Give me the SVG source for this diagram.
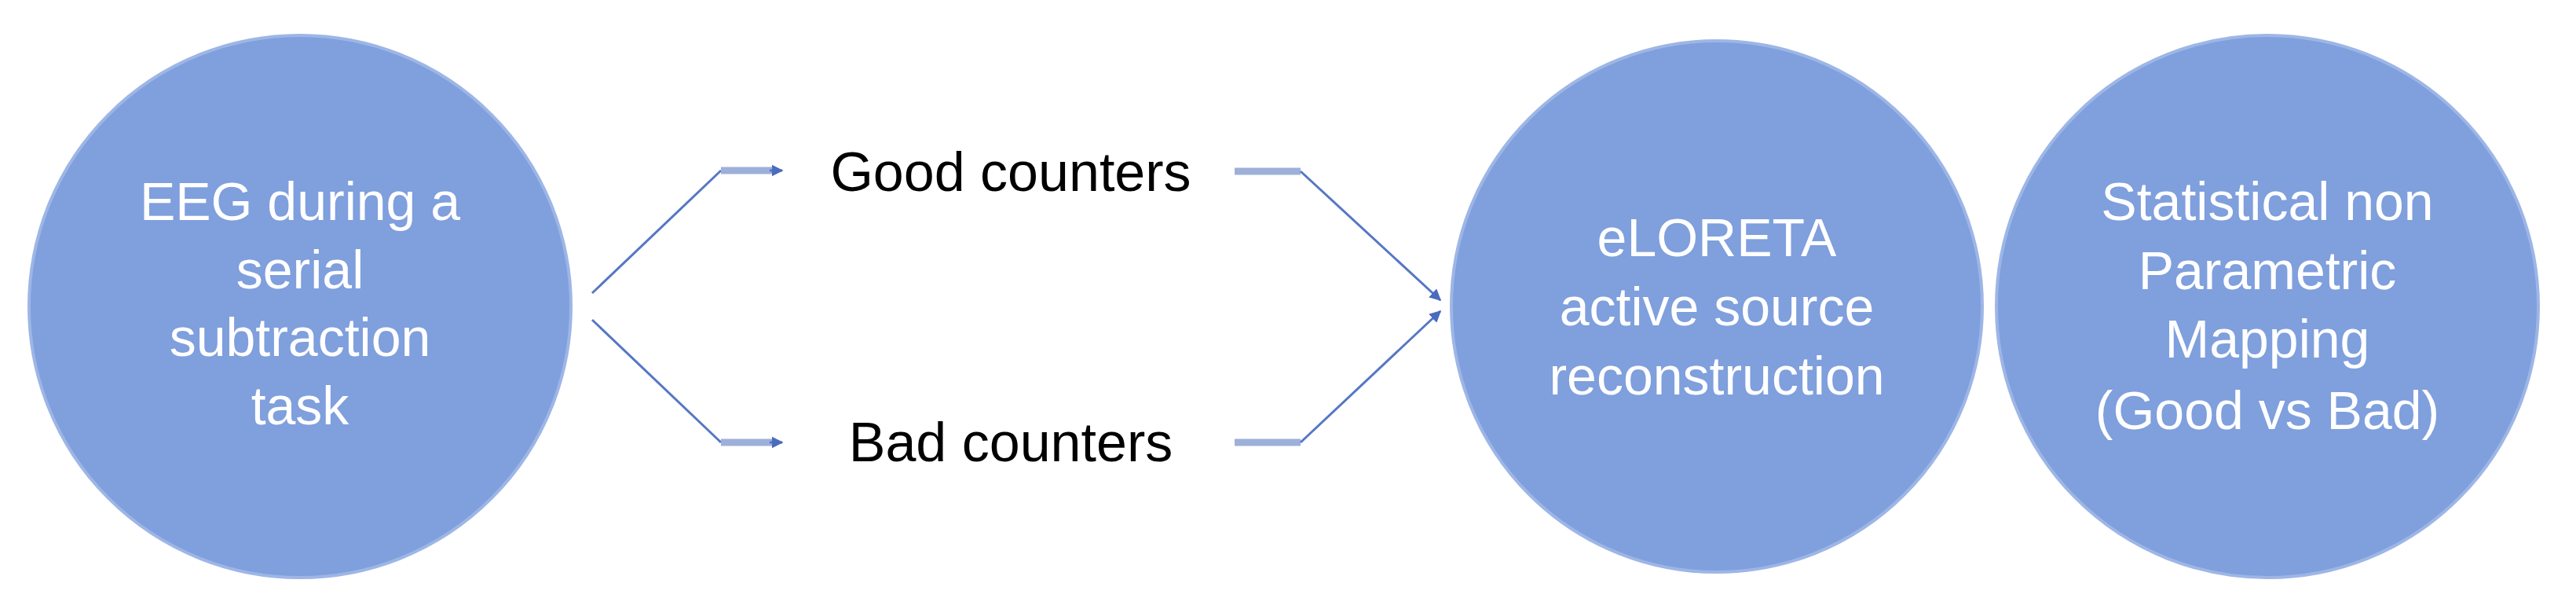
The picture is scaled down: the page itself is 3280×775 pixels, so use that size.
<svg xmlns="http://www.w3.org/2000/svg" width="3280" height="775" viewBox="0 0 3280 775">
<defs>
<style>
.n{fill:#7F9FDD;stroke:#9DB6E6;stroke-width:4}
.t{font-family:"Liberation Sans",Arial,sans-serif;font-size:68px;fill:#fff;text-anchor:middle}
.l{font-family:"Liberation Sans",Arial,sans-serif;font-size:70px;fill:#000;text-anchor:middle}
.c{fill:none;stroke:#5677C4;stroke-width:3}
.h{fill:none;stroke:#9DB0DA;stroke-width:9}
</style>
<marker id="a" viewBox="0 0 10 10" refX="9" refY="5" markerWidth="4" markerHeight="4" orient="auto" markerUnits="strokeWidth"><path d="M0,0L10,5L0,10z" fill="#4A6BBE"/></marker>
<marker id="b" viewBox="0 0 10 10" refX="9" refY="5" markerWidth="5" markerHeight="5" orient="auto"><path d="M0,0L10,5L0,10z" fill="#4A6BBE"/></marker>
</defs>
<g id="eeg"><circle class="n" cx="382" cy="390" r="345"/>
<text class="t"><tspan x="382" y="280">EEG during a</tspan><tspan x="382" y="367">serial</tspan><tspan x="382" y="453">subtraction</tspan><tspan x="382" y="540">task</tspan></text></g>
<g id="good"><text class="l" x="1287" y="243">Good counters</text></g>
<g id="bad"><text class="l" x="1287" y="587">Bad counters</text></g>
<g id="eloreta"><circle class="n" cx="2186" cy="390" r="338"/>
<text class="t"><tspan x="2186" y="326">eLORETA</tspan><tspan x="2186" y="414">active source</tspan><tspan x="2186" y="502">reconstruction</tspan></text></g>
<g id="snpm"><circle class="n" cx="2887" cy="390" r="345"/>
<text class="t"><tspan x="2887" y="280">Statistical non</tspan><tspan x="2887" y="368">Parametric</tspan><tspan x="2887" y="455">Mapping</tspan><tspan x="2887" y="546">(Good vs Bad)</tspan></text></g>
<g id="connectors">
<path class="c" d="M754,373L918,217"/><path class="h" d="M918,217L985,217"/><path class="c" d="M980,217L996,217" marker-end="url(#b)"/>
<path class="c" d="M754,407L918,563"/><path class="h" d="M918,563L985,563"/><path class="c" d="M980,563L996,563" marker-end="url(#b)"/>
<path class="h" d="M1572,218L1656,218"/><path class="c" d="M1656,218L1834,382" marker-end="url(#b)"/>
<path class="h" d="M1572,563L1656,563"/><path class="c" d="M1656,563L1834,396" marker-end="url(#b)"/>
</g>
</svg>
